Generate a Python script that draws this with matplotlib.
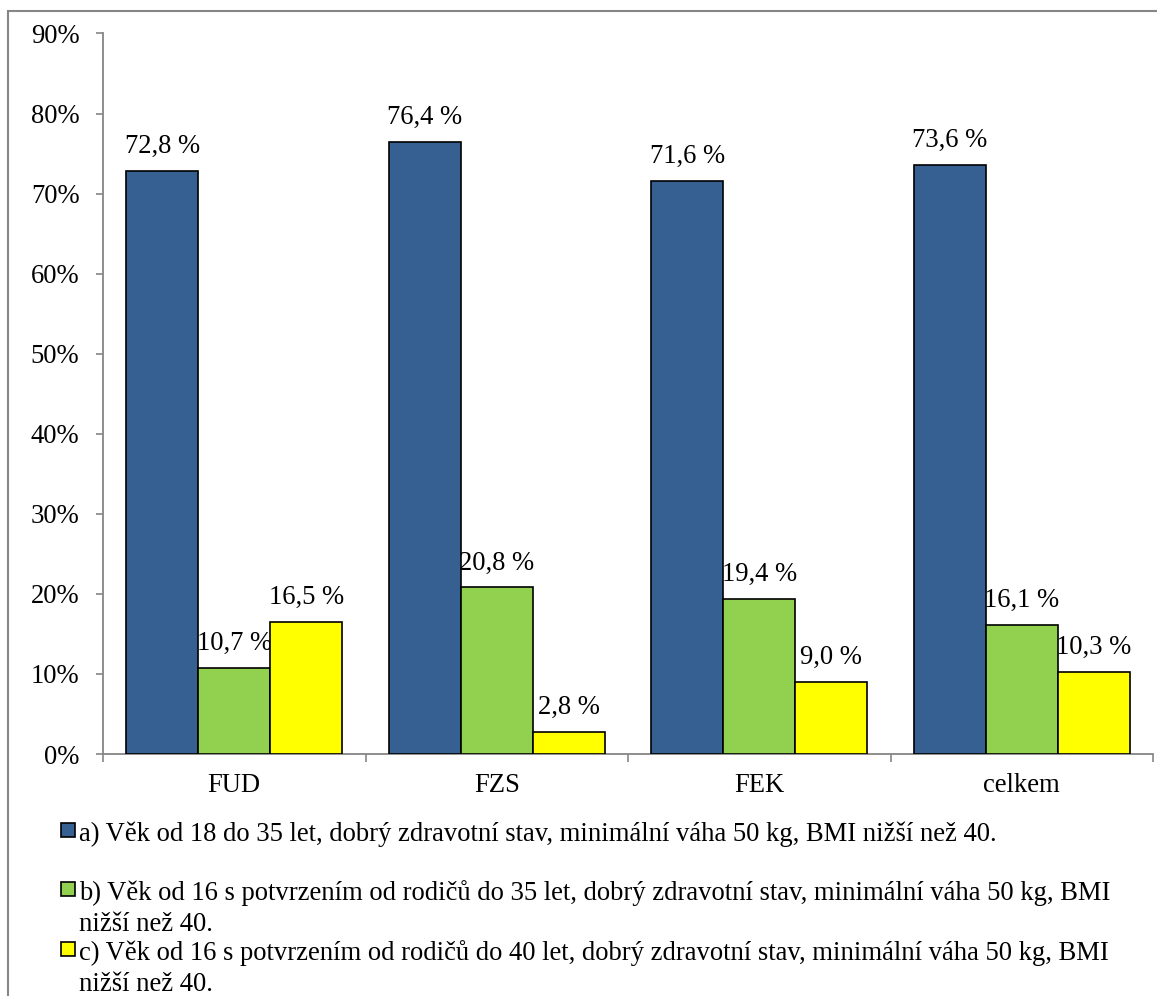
import matplotlib
matplotlib.use("Agg")
import matplotlib.pyplot as plt
from matplotlib.patches import Rectangle
import numpy as np

plt.rcParams['font.family'] = ['Liberation Serif', 'DejaVu Serif']

# skupiny a hodnoty v procentech
kategorie = ["FUD", "FZS", "FEK", "celkem"]
serie_a = [72.8, 76.4, 71.6, 73.6]
serie_b = [10.7, 20.8, 19.4, 16.1]
serie_c = [16.5, 2.8, 9.0, 10.3]
popisky = [
    "a) Věk od 18 do 35 let, dobrý zdravotní stav, minimální váha 50 kg, BMI nižší než 40.",
    "b) Věk od 16 s potvrzením od rodičů do 35 let, dobrý zdravotní stav, minimální váha 50 kg, BMI\nnižší než 40.",
    "c) Věk od 16 s potvrzením od rodičů do 40 let, dobrý zdravotní stav, minimální váha 50 kg, BMI\nnižší než 40.",
]
yticks = [0, 10, 20, 30, 40, 50, 60, 70, 80, 90]

barvy = ["#376092", "#92D050", "#FFFF00"]
seda = "#868686"
W, H = 1157, 996
fs = 19.2

fig = plt.figure(figsize=(W / 100, H / 100), dpi=100)
ax = fig.add_axes([103 / W, 1 - 754 / H, 1050 / W, (754 - 33.5) / H])

x = np.arange(len(kategorie))
sirka = 0.274
for i, (vals, c) in enumerate(zip([serie_a, serie_b, serie_c], barvy)):
    bars = ax.bar(x + (i - 1) * sirka, vals, sirka, color=c, edgecolor="black", linewidth=1.2, zorder=3)
    for b, v in zip(bars, vals):
        ax.annotate(f"{v:.1f} %".replace(".", ","), (b.get_x() + b.get_width() / 2, v),
                    xytext=(0, 13), textcoords="offset points", ha="center", va="baseline",
                    fontsize=fs)

ax.set_xlim(-0.5, len(kategorie) - 0.5)
ax.set_ylim(0, 90)
ax.set_yticks(yticks)
ax.set_yticklabels([f"{t}%" for t in yticks])

# hlavni ticky na hranicich skupin, popisky na stredech
ax.set_xticks(np.arange(len(kategorie) + 1) - 0.5)
ax.set_xticklabels([])
ax.set_xticks(x, minor=True)
ax.set_xticklabels(kategorie, minor=True)
ax.tick_params(axis="x", which="major", direction="out", length=6, width=1.2, color=seda)
ax.tick_params(axis="x", which="minor", length=0, pad=14, labelsize=fs)
ax.tick_params(axis="y", direction="out", length=5, width=1.2, color=seda, pad=12, labelsize=fs)

for s in ["top", "right"]:
    ax.spines[s].set_visible(False)
for s in ["left", "bottom"]:
    ax.spines[s].set_color(seda)
    ax.spines[s].set_linewidth(1.3)

# ramecek grafu
fig.add_artist(Rectangle((7.5 / W, -0.5), 2, 1.5 - 11.5 / H, transform=fig.transFigure,
                         fill=False, edgecolor=seda, linewidth=1.5))

# legenda pod grafem
zakladni = [841, 900, 960]
radek = 30.5
for txt, c, yb in zip(popisky, barvy, zakladni):
    fig.add_artist(Rectangle((61 / W, 1 - (yb - 4) / H), 14 / W, 14 / H, transform=fig.transFigure,
                             facecolor=c, edgecolor="black", linewidth=1.2))
    for k, cast in enumerate(txt.split("\n")):
        fig.text(79 / W, 1 - (yb + k * radek) / H, cast, fontsize=fs, ha="left", va="baseline")

fig.savefig("out.png", dpi=100)
